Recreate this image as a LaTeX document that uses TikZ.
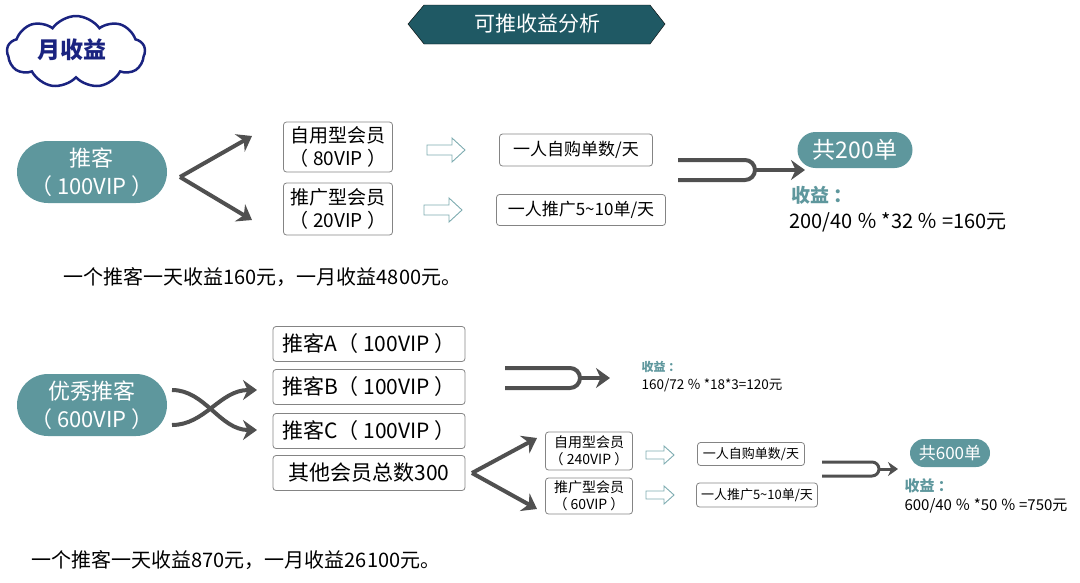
\documentclass[tikz,border=0pt]{standalone}
\usepackage{fontspec}
\setmainfont{Noto Sans CJK SC}
\usetikzlibrary{shapes.symbols,arrows.meta}
\definecolor{teal1}{HTML}{5E979D}
\definecolor{banner}{HTML}{1F5964}
\definecolor{navy}{HTML}{1A2380}
\definecolor{ag}{HTML}{505050}
\tikzset{
 x=1pt,y=-1pt,
 pill/.style={fill=teal1,text=white,rounded corners=#1,inner sep=0pt,align=center},
 bx/.style={draw=ag!70,rounded corners=3pt,inner sep=0pt,align=center,line width=0.8pt},
 big/.style={line width=4pt,draw=ag,-{Stealth[length=14pt,width=20pt]}},
 oa/.style={draw=teal1!80,fill=white,line width=0.9pt,line join=miter},
}
% \openarr{name}{cx}{cy}{half length}{shaft half}{head half}{head length}
\newcommand{\openarr}[7]{%
 \coordinate (#1) at (#2,#3);
 \draw[oa] ([shift={(-#4,-#5)}]#1) -- ([shift={(#4-#7,-#5)}]#1) -- ([shift={(#4-#7,-#6)}]#1) -- ([shift={(#4,0)}]#1) -- ([shift={(#4-#7,#6)}]#1) -- ([shift={(#4-#7,#5)}]#1) -- ([shift={(-#4,#5)}]#1) -- cycle;}
\begin{document}
\begin{tikzpicture}
\useasboundingbox (0,0) rectangle (1080,582);
% banner
\draw[fill=banner] (408,24)--(424,5)--(650,5)--(665,24)--(650,44)--(424,44)--cycle;
\node[text=white,font=\fontsize{21}{24}\selectfont] (ban) at (537,24) {可推收益分析};
% cloud
\node[cloud,cloud puffs=9,cloud puff arc=110,draw=navy,line width=2.5pt,fill=white,minimum width=138pt,minimum height=72pt,aspect=2] (cl) at (76,52) {};
\node[text=navy,font=\fontsize{23}{25}\selectfont\bfseries] (cltxt) at (72,50) {月收益};
% section 1
\node[pill=31pt,minimum width=150pt,minimum height=62pt,font=\fontsize{22}{28}\selectfont] (tk) at (92,172) {推客\\（ 100VIP ）};
\coordinate (v1) at (180,177);
\draw[big] (v1) -- (252,136);
\draw[big] (v1) -- (252,220);
\node[bx,minimum width=109pt,minimum height=50pt,font=\fontsize{19}{23}\selectfont] (b1) at (338,147) {自用型会员\\（ 80VIP ）};
\node[bx,minimum width=109pt,minimum height=52pt,font=\fontsize{19}{23}\selectfont] (b2) at (338,209) {推广型会员\\（ 20VIP ）};
\openarr{a1}{446}{150}{19}{5}{12}{13}
\openarr{a2}{443}{210}{19}{5}{12}{13}
\node[bx,minimum width=153pt,minimum height=32pt,font=\fontsize{17}{19}\selectfont] (c1) at (576,150) {一人自购单数/天};
\node[bx,minimum width=169pt,minimum height=31pt,font=\fontsize{17}{19}\selectfont] (c2) at (581,210) {一人推广5\textasciitilde10单/天};
\draw[line width=4pt,draw=ag] (678,160) -- (745,160) arc[start angle=90,end angle=-90,radius=10pt] -- (678,180);
\coordinate (u1) at (755,170);
\draw[big] (u1) -- (805,170);
\node[pill=18pt,minimum width=115pt,minimum height=36pt,font=\fontsize{23}{25}\selectfont] (p1) at (855,150) {共200单};
\node[anchor=west,text=teal1,font=\fontsize{19}{21}\selectfont\bfseries] (s1) at (788,195) {收益 ：};
\node[anchor=west,font=\fontsize{20}{22}\selectfont] (f1) at (786,222) {200/40 ％ *32 ％ =160元};
\node[anchor=west,font=\fontsize{20}{22}\selectfont] (t1) at (60,277) {一个推客一天收益160元，一月收益4800元。};
% section 2
\node[pill=31pt,minimum width=150pt,minimum height=62pt,font=\fontsize{22}{28}\selectfont] (yx) at (92,405) {优秀推客\\（ 600VIP ）};
\draw[line width=4pt,draw=ag,-{Stealth[length=14pt,width=20pt]}] (172,390) .. controls (205,390) and (220,430) .. (257,430);
\draw[line width=4pt,draw=ag,-{Stealth[length=14pt,width=20pt]}] (172,425) .. controls (205,425) and (220,390) .. (257,390);
\foreach \n/\y/\t in {ka/344/推客A（ 100VIP ）,kb/387/推客B（ 100VIP ）,kc/431/推客C（ 100VIP ）,kd/473/其他会员总数300}
 \node[bx,minimum width=192pt,minimum height=35pt,font=\fontsize{21}{23}\selectfont] (\n) at (369,\y) {\t};
\draw[line width=4pt,draw=ag] (505,368) -- (570,368) arc[start angle=90,end angle=-90,radius=10pt] -- (505,388);
\coordinate (u2) at (580,378);
\draw[big] (u2) -- (610,378);
\node[anchor=west,text=teal1,font=\fontsize{12}{14}\selectfont\bfseries] (s2) at (638,367) {收益 ：};
\node[anchor=west,font=\fontsize{13.5}{15}\selectfont] (f2) at (638,385) {160/72 ％ *18*3=120元};
\coordinate (v2) at (472,473);
\draw[big] (v2) -- (537,438);
\draw[big] (v2) -- (537,509);
\node[bx,minimum width=87pt,minimum height=38pt,font=\fontsize{14}{17}\selectfont] (d1) at (589,451) {自用型会员\\（ 240VIP ）};
\node[bx,minimum width=87pt,minimum height=36pt,font=\fontsize{14}{17}\selectfont] (d2) at (589,496) {推广型会员\\（ 60VIP ）};
\openarr{a3}{660}{455}{14}{4}{9}{10}
\openarr{a4}{660}{495}{14}{4}{9}{10}
\node[bx,minimum width=107pt,minimum height=23pt,font=\fontsize{13}{15}\selectfont] (e1) at (751,454) {一人自购单数/天};
\node[bx,minimum width=121pt,minimum height=24pt,font=\fontsize{13}{15}\selectfont] (e2) at (757,495) {一人推广5\textasciitilde10单/天};
\draw[line width=3pt,draw=ag] (822,462) -- (872,462) arc[start angle=90,end angle=-90,radius=7pt] -- (822,476);
\coordinate (u3) at (879,469);
\draw[line width=3pt,draw=ag,-{Stealth[length=10pt,width=14pt]}] (u3) -- (898,469);
\node[pill=14pt,minimum width=80pt,minimum height=28pt,font=\fontsize{17}{19}\selectfont] (p2) at (950,453) {共600单};
\node[anchor=west,text=teal1,font=\fontsize{15}{17}\selectfont\bfseries] (s3) at (901,486) {收益 ：};
\node[anchor=west,font=\fontsize{15}{17}\selectfont] (f3) at (901,506) {600/40 ％ *50 ％ =750元};
\node[anchor=west,font=\fontsize{20}{22}\selectfont] (t2) at (28,560) {一个推客一天收益870元，一月收益26100元。};
\end{tikzpicture}
\end{document}
